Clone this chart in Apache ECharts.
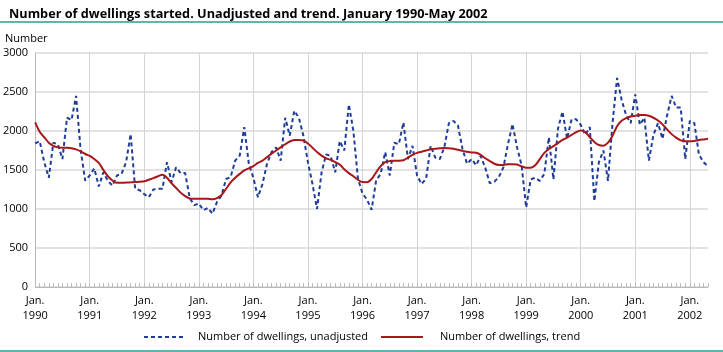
<!DOCTYPE html>
<html>
<head>
<meta charset="utf-8">
<script src="https://cdn.jsdelivr.net/npm/echarts@6/dist/echarts.min.js"></script>
<style>
html,body{margin:0;padding:0;background:#fff;}
#chart{width:723px;height:352px;}
</style>
</head>
<body>
<div id="chart"></div>
<script>
// Monthly categories Jan 1990 - May 2002
var years = ['1990','1991','1992','1993','1994','1995','1996','1997','1998','1999','2000','2001','2002'];
var monthNames = ['Jan.','Feb.','Mar.','Apr.','May','Jun.','Jul.','Aug.','Sep.','Oct.','Nov.','Dec.'];
var categories = [];
years.forEach(function (y) {
  monthNames.forEach(function (m) { categories.push(m + ' ' + y); });
});
categories = categories.slice(0, 149);

var seriesNames = ['Number of dwellings, unadjusted', 'Number of dwellings, trend'];

var unadjusted = [
  1840, 1870, 1600, 1400, 1850, 1830, 1640, 2170, 2140, 2450, 1760, 1365,
  1430, 1520, 1290, 1470, 1360, 1300, 1430, 1450, 1600, 1960, 1260, 1240,
  1190, 1150, 1250, 1260, 1260, 1600, 1345, 1535, 1460, 1460, 1140, 1050,
  1070, 985, 1015, 940, 1090, 1175, 1385, 1410, 1620, 1685, 2050, 1580,
  1400, 1150, 1320, 1580, 1730, 1790, 1620, 2170, 1940, 2260, 2170, 1940,
  1600, 1320, 1000, 1470, 1700, 1680, 1470, 1870, 1750, 2340, 2000, 1390,
  1200, 1120, 990, 1365, 1450, 1730, 1430, 1850, 1830, 2110, 1640, 1810,
  1430, 1320, 1390, 1810, 1660, 1640, 1790, 2100, 2130, 2070, 1770, 1580,
  1640, 1560, 1680, 1530, 1330, 1350, 1410, 1535, 1830, 2090, 1790, 1560,
  1020, 1380, 1400, 1360, 1450, 1920, 1380, 2030, 2250, 1900, 2150, 2150,
  2080, 1950, 2050, 1100, 1600, 1750, 1360, 2100, 2680, 2400, 2200, 2100,
  2470, 2080, 2170, 1620, 1950, 2100, 1900, 2200, 2450, 2300, 2300, 1640,
  2130, 2100, 1700, 1600, 1550
];

var trend = [
  2110, 1990, 1920, 1850, 1810, 1790, 1785, 1785, 1780, 1765, 1740, 1705,
  1680, 1640, 1590, 1500, 1420, 1365, 1335, 1335, 1340, 1342, 1345, 1348,
  1355, 1375, 1395, 1420, 1438, 1400, 1330, 1270, 1210, 1165, 1135, 1132,
  1132, 1132, 1130, 1125, 1140, 1180, 1260, 1340, 1400, 1450, 1495, 1520,
  1550, 1590, 1620, 1665, 1710, 1750, 1790, 1830, 1865, 1884, 1886, 1878,
  1840, 1785, 1730, 1685, 1650, 1630, 1600, 1570, 1510, 1460, 1420, 1375,
  1345, 1344, 1385, 1470, 1550, 1600, 1615, 1620, 1620, 1625, 1660, 1695,
  1720, 1735, 1750, 1765, 1772, 1778, 1782, 1780, 1772, 1760, 1745, 1735,
  1725, 1720, 1695, 1650, 1615, 1580, 1565, 1565, 1575, 1575, 1570, 1548,
  1530, 1530, 1560, 1640, 1720, 1770, 1805, 1845, 1885, 1915, 1950, 1985,
  2005, 1985, 1920, 1860, 1820, 1812, 1850, 1940, 2060, 2130, 2165, 2185,
  2195, 2205, 2205, 2195, 2170, 2135, 2085, 2020, 1960, 1915, 1880, 1870,
  1867, 1872, 1884, 1892, 1900
];

var yTicks = [0, 500, 1000, 1500, 2000, 2500, 3000];

var BLUE = '#1f3c98', RED = '#a8171b', TEAL = '#2a9d97';
var FONT = 'Open Sans';
var chart = echarts.init(document.getElementById('chart'), null, {renderer: 'canvas'});

function isJan(idx) { return idx % 12 === 0; }

chart.setOption({
  animation: false,
  backgroundColor: '#fff',
  textStyle: {fontFamily: FONT},
  title: {
    text: 'Number of dwellings started. Unadjusted and trend. January 1990-May 2002',
    left: 4, top: 3,
    textStyle: {fontFamily: FONT, fontSize: 12.7, fontWeight: 'bold', color: '#000'}
  },
  graphic: [
    {type: 'line', silent: true, shape: {x1: 0, y1: 22, x2: 723, y2: 22}, style: {stroke: TEAL, lineWidth: 1.5}},
    {type: 'line', silent: true, shape: {x1: 0, y1: 351, x2: 723, y2: 351}, style: {stroke: TEAL, lineWidth: 1.5}},
    {type: 'text', left: 5, top: 33, style: {text: 'Number', font: '11px "Open Sans"', fill: '#000'}},
    {type: 'line', silent: true, shape: {x1: 144, y1: 337, x2: 183, y2: 337}, style: {stroke: BLUE, lineWidth: 2, lineDash: [4, 3]}},
    {type: 'text', x: 198, y: 337, style: {text: seriesNames[0], font: '11px "Open Sans"', fill: '#000', textVerticalAlign: 'middle'}},
    {type: 'line', silent: true, shape: {x1: 381, y1: 337, x2: 423, y2: 337}, style: {stroke: RED, lineWidth: 2}},
    {type: 'text', x: 440, y: 337, style: {text: seriesNames[1], font: '11px "Open Sans"', fill: '#000', textVerticalAlign: 'middle'}}
  ],
  grid: {left: 35, right: 15, top: 53, bottom: 65, containLabel: false},
  xAxis: {
    type: 'category',
    data: categories,
    boundaryGap: false,
    axisLine: {lineStyle: {color: '#b8b8b8', width: 1}},
    axisTick: {show: true, interval: 0, inside: true, length: 4, lineStyle: {color: '#bdbdbd'}},
    axisLabel: {
      interval: function (idx) { return isJan(idx); },
      formatter: function (v) { var p = v.split(' '); return p[0] + '\n' + p[1]; },
      fontFamily: FONT, fontSize: 11, color: '#000', lineHeight: 15, margin: 6
    },
    splitLine: {show: true, interval: function (idx) { return isJan(idx); }, lineStyle: {color: '#d4d4d4', width: 1}}
  },
  yAxis: {
    type: 'value',
    min: yTicks[0], max: yTicks[yTicks.length - 1], interval: 500,
    axisLine: {show: true, lineStyle: {color: '#b8b8b8', width: 1}},
    axisTick: {show: false},
    axisLabel: {fontFamily: FONT, fontSize: 11, color: '#000', margin: 7, formatter: function (v) { return String(v); }},
    splitLine: {lineStyle: {color: '#d9d9d9', width: 1.5}}
  },
  series: [
    {
      name: seriesNames[0],
      type: 'line',
      data: unadjusted,
      symbol: 'none',
      lineStyle: {color: BLUE, width: 2, type: [4, 3]},
      itemStyle: {color: BLUE},
      z: 2
    },
    {
      name: seriesNames[1],
      type: 'line',
      data: trend,
      symbol: 'none',
      smooth: 0.3,
      lineStyle: {color: RED, width: 2},
      itemStyle: {color: RED},
      z: 3
    }
  ]
});
</script>
</body>
</html>
